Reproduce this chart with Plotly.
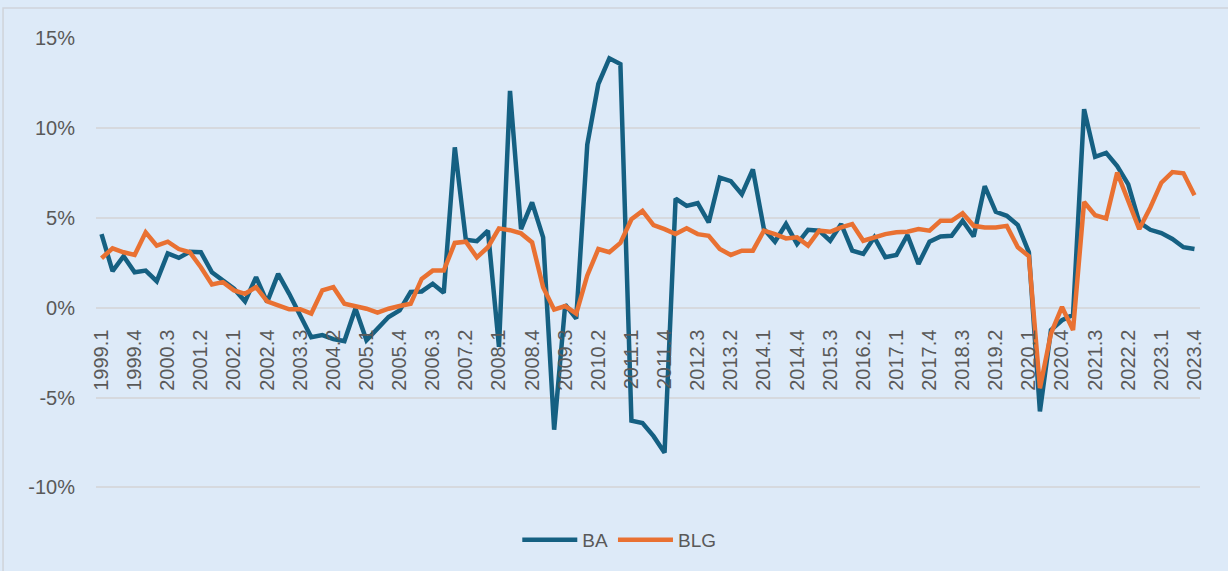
import plotly.graph_objects as go

years = list(range(1999, 2024))
quarters = [f"{y}.{q}" for y in years for q in range(1, 5)]

ba = [4.09, 2.03, 2.86, 1.97, 2.06, 1.47, 3.02, 2.77, 3.11, 3.08,
      1.97, 1.51, 1.05, 0.35, 1.70, 0.31, 1.88, 0.77, -0.50, -1.65,
      -1.53, -1.75, -1.86, -0.05, -1.81, -1.16, -0.52, -0.15, 0.87, 0.90,
      1.33, 0.83, 8.92, 3.78, 3.70, 4.28, -2.18, 12.06, 4.37, 5.85,
      3.91, -6.79, 0.17, -0.61, 9.07, 12.44, 13.87, 13.55, -6.29, -6.42,
      -7.15, -8.07, 6.07, 5.66, 5.81, 4.74, 7.23, 7.04, 6.31, 7.69,
      4.37, 3.67, 4.65, 3.54, 4.33, 4.28, 3.72, 4.65, 3.17, 2.99,
      3.91, 2.80, 2.93, 4.04, 2.43, 3.67, 3.96, 4.00, 4.83, 3.96,
      6.76, 5.33, 5.11, 4.59, 3.08, -5.77, -1.25, -0.70, -0.40, 11.04,
      8.39, 8.61, 7.87, 6.86, 4.74, 4.33, 4.15, 3.82, 3.36, 3.26]

blg = [2.75, 3.30, 3.08, 2.93, 4.19, 3.45, 3.67, 3.26, 3.08, 2.25,
       1.29, 1.42, 0.96, 0.77, 1.14, 0.35, 0.13, -0.09, -0.09, -0.33,
       0.96, 1.14, 0.22, 0.09, -0.06, -0.28, -0.06, 0.09, 0.22, 1.60,
       2.06, 2.06, 3.60, 3.67, 2.80, 3.36, 4.41, 4.31, 4.13, 3.63,
       1.14, -0.11, 0.09, -0.33, 1.79, 3.26, 3.08, 3.60, 4.92, 5.38,
       4.59, 4.37, 4.09, 4.41, 4.09, 4.00, 3.26, 2.93, 3.17, 3.17,
       4.28, 4.09, 3.85, 3.91, 3.45, 4.28, 4.22, 4.46, 4.65, 3.72,
       3.91, 4.09, 4.19, 4.22, 4.37, 4.28, 4.83, 4.83, 5.25, 4.55,
       4.46, 4.46, 4.55, 3.36, 2.86, -4.48, -1.44, 0.04, -1.25, 5.88,
       5.14, 4.96, 7.51, 5.94, 4.37, 5.57, 6.95, 7.54, 7.47, 6.25]

y_tick_vals = [-10, -5, 0, 5, 10, 15]
y_tick_text = ["-10%", "-5%", "0%", "5%", "10%", "15%"]
x_tick_labels = quarters[::3]

BLUE = "#156082"
ORANGE = "#E97132"
BG = "#DDEAF8"
TXT = "#595959"

Y_MIN, Y_MAX = -10.2, 15

fig = go.Figure()
fig.add_trace(go.Scatter(x=quarters, y=ba, mode="lines", name="BA",
                         line=dict(color=BLUE, width=4.5, shape="linear"),
                         hoverinfo="x+y"))
fig.add_trace(go.Scatter(x=quarters, y=blg, mode="lines", name="BLG",
                         line=dict(color=ORANGE, width=4.5, shape="linear"),
                         hoverinfo="x+y"))

fig.update_layout(
    width=1228, height=571, autosize=False,
    margin=dict(l=96, r=28, t=38, b=77, pad=0),
    paper_bgcolor=BG, plot_bgcolor=BG,
    font=dict(family="Liberation Sans, Arial, sans-serif", color=TXT, size=20),
    showlegend=True,
    legend=dict(orientation="h", x=0.474, xanchor="center", y=-0.108, yanchor="middle",
                font=dict(size=19, color=TXT), bgcolor="rgba(0,0,0,0)",
                itemwidth=55, tracegroupgap=0),
    xaxis=dict(type="category", categoryorder="array", categoryarray=quarters,
               range=[-0.5, 99.5], tickmode="array", tickvals=x_tick_labels,
               ticktext=x_tick_labels, tickangle=-90, showgrid=False,
               showline=False, zeroline=False, ticks="", anchor="free",
               position=(0 - Y_MIN) / (Y_MAX - Y_MIN),
               tickfont=dict(size=20, color=TXT), ticklabelstandoff=17),
    yaxis=dict(range=[Y_MIN, Y_MAX], tickmode="array", tickvals=y_tick_vals,
               ticktext=y_tick_text, showgrid=True, gridcolor="#D6D9DE", gridwidth=1.5,
               zeroline=False, showline=False, ticks="",
               tickfont=dict(size=20, color=TXT), ticklabelstandoff=20),
    shapes=[dict(type="rect", xref="paper", yref="paper",
                 x0=-0.0842, x1=1.2, y0=-0.5, y1=1.066,
                 line=dict(color="#D0D4DA", width=1.5), fillcolor="rgba(0,0,0,0)",
                 layer="below")],
)

fig.write_html("out.html", config={"displayModeBar": False},
               post_script="document.body.style.margin='0';")
